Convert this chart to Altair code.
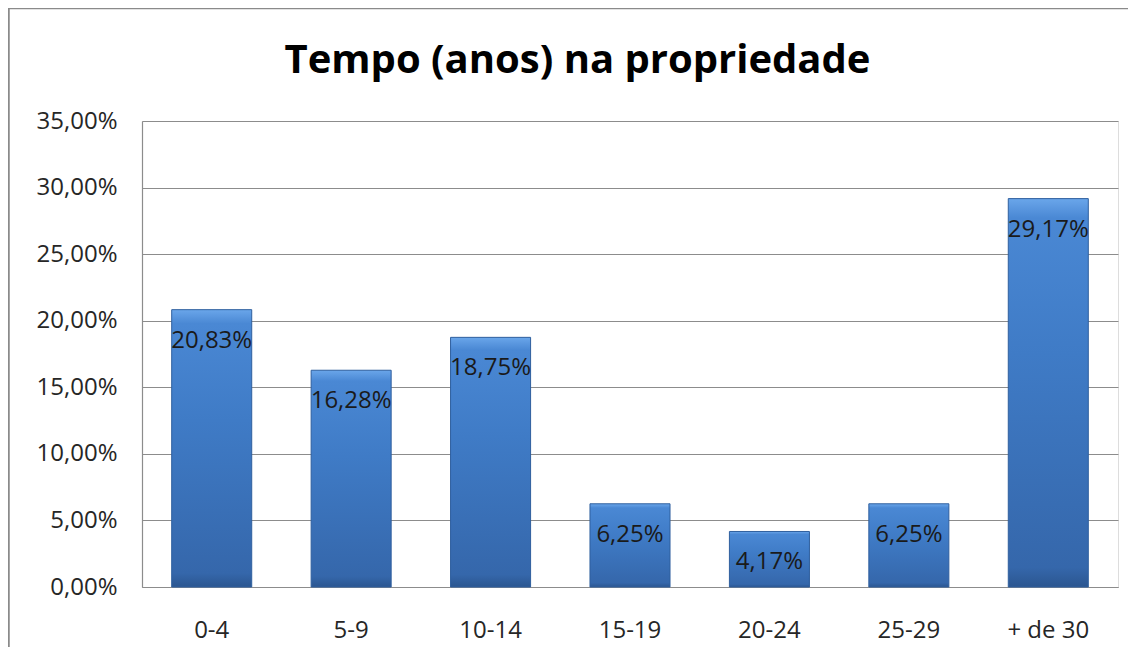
import altair as alt
import pandas as pd

TITLE = "Tempo (anos) na propriedade"
categories = ["0-4", "5-9", "10-14", "15-19", "20-24", "25-29", "+ de 30"]
values = [0.2083, 0.1628, 0.1875, 0.0625, 0.0417, 0.0625, 0.2917]
y_ticks = [0, 0.05, 0.10, 0.15, 0.20, 0.25, 0.30, 0.35]

df = pd.DataFrame({"faixa": categories, "valor": values})

FONT = "Open Sans"
PCT_EXPR = "replace(format({v}, '.2%'), '.', ',')"

grad = alt.Gradient(
    gradient="linear",
    x1=0, x2=0, y1=0, y2=1,
    stops=[
        alt.GradientStop(color="#6aa6ea", offset=0),
        alt.GradientStop(color="#4a88d4", offset=0.05),
        alt.GradientStop(color="#3f7bc6", offset=0.4),
        alt.GradientStop(color="#3567ab", offset=0.95),
        alt.GradientStop(color="#2b5690", offset=1),
    ],
)

x_enc = alt.X(
    "faixa:N",
    sort=categories,
    scale=alt.Scale(paddingInner=0.426, paddingOuter=0.213),
    axis=alt.Axis(
        title=None, labelAngle=0, ticks=False, labelPadding=31,
        labelFont=FONT, labelFontSize=24, labelColor="#262626",
        domainColor="#8c8c8c", domainWidth=1.2, grid=False,
    ),
)
y_enc = alt.Y(
    "valor:Q",
    scale=alt.Scale(domain=[0, 0.35], nice=False),
    axis=alt.Axis(
        title=None, values=y_ticks, ticks=False, labelPadding=25,
        labelFont=FONT, labelFontSize=24, labelColor="#262626",
        labelExpr=PCT_EXPR.format(v="datum.value"),
        domainColor="#8c8c8c", domainWidth=1.2,
        grid=True, gridColor="#8c8c8c", gridWidth=1.2,
    ),
)

base = alt.Chart(df)

bars = base.mark_bar(color=grad, stroke="#2f5f9e", strokeWidth=1).encode(
    x=x_enc, y=y_enc
)

labels = base.transform_calculate(
    rotulo=PCT_EXPR.format(v="datum.valor")
).mark_text(
    baseline="middle", align="center", dy=31,
    font=FONT, fontSize=24, color="#1a1a1a",
).encode(x=x_enc, y=y_enc, text="rotulo:N")

one_df = pd.DataFrame({"titulo": [TITLE]})
frame_top = alt.Chart(one_df).mark_rule(color="#8a8a8a", strokeWidth=2.5).encode(
    x=alt.value(-133.5), x2=alt.value(1000), y=alt.value(-113)
)
frame_left = alt.Chart(one_df).mark_rule(color="#8a8a8a", strokeWidth=2.5).encode(
    x=alt.value(-133.5), y=alt.value(-113), y2=alt.value(540)
)
title_mark = alt.Chart(one_df).mark_text(
    font=FONT, fontSize=40, fontWeight="bold", color="#000000",
    align="center", baseline="alphabetic",
).encode(x=alt.value(435.5), y=alt.value(-48), text="titulo:N")

chart = alt.layer(frame_top, frame_left, title_mark, bars, labels).properties(
    width=976,
    height=466,
    padding={"left": 134, "top": 113, "right": 10, "bottom": 60},
    autosize=alt.AutoSizeParams(type="none"),
).configure_view(stroke=None).configure(background="white")

chart.save("out.html", embed_options={"renderer": "svg", "actions": False})
